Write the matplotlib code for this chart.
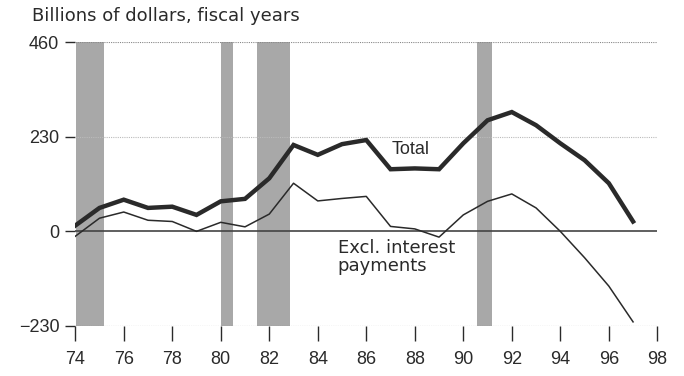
import matplotlib
matplotlib.use("Agg")
import matplotlib.pyplot as plt

years = list(range(74, 98))
total = [14, 57, 77, 57, 60, 40, 73, 79, 129, 210, 186, 212, 222, 151, 153, 151,
         214, 270, 290, 258, 214, 173, 117, 24]
excl_interest = [-12, 32, 47, 27, 24, 0, 22, 11, 42, 117, 74, 80, 85, 12, 6, -14,
                 40, 73, 91, 57, 0, -64, -133, -220]
recessions = [(74.05, 75.2), (80.0, 80.5), (81.5, 82.85), (90.55, 91.2)]
yticks = [-230, 0, 230, 460]
ytick_labels = ["\u2212230", "0", "230", "460"]
xticks = list(range(74, 99, 2))

plt.rcParams['font.family'] = ['Liberation Sans', 'DejaVu Sans']
ink = "#2a2a2a"

fig = plt.figure(figsize=(6.84, 3.76), dpi=100)
ax = fig.add_axes([0.110, 0.133, 0.851, 0.755])

for a, b in recessions:
    ax.axvspan(a, b, ymin=0, ymax=1, color="#a8a8a8", lw=0, zorder=1)

ax.axhline(460, color="#888888", lw=0.8, ls=(0, (1, 1)), zorder=2)
ax.axhline(230, color="#bbbbbb", lw=0.8, ls=(0, (1, 1)), zorder=2)
ax.axhline(-230, color="#666666", lw=0.8, ls=(0, (1, 1)), zorder=2)
ax.axhline(0, color="#444444", lw=1.2, zorder=3)

ax.plot(years, total, color=ink, lw=3.2, solid_joinstyle="miter", zorder=5)
ax.plot(years, excl_interest, color=ink, lw=1.1, zorder=4)

ax.text(87.83, 200, "Total", fontsize=13, color=ink, ha="center", va="center")
ax.text(84.82, -62, "Excl. interest\npayments", fontsize=13,
        family=['DejaVu Sans'], color=ink, ha="left", va="center",
        linespacing=0.95)

ax.set_xlim(74, 98)
ax.set_ylim(-230, 460)
for s in ax.spines.values():
    s.set_visible(False)

ax.set_yticks(yticks)
ax.set_yticklabels(ytick_labels)
ax.set_xticks(xticks)
ax.tick_params(axis="y", length=7, width=1, color=ink, labelsize=13,
               labelcolor=ink, pad=4.5)
ax.tick_params(axis="x", length=11, width=1, color=ink, labelsize=13,
               labelcolor=ink, pad=7)

fig.text(32 / 684, 1 - 16 / 376, "Billions of dollars, fiscal years", fontsize=13,
         family=['DejaVu Sans'], color=ink, ha="left", va="center")

fig.savefig("out.png", dpi=100)
